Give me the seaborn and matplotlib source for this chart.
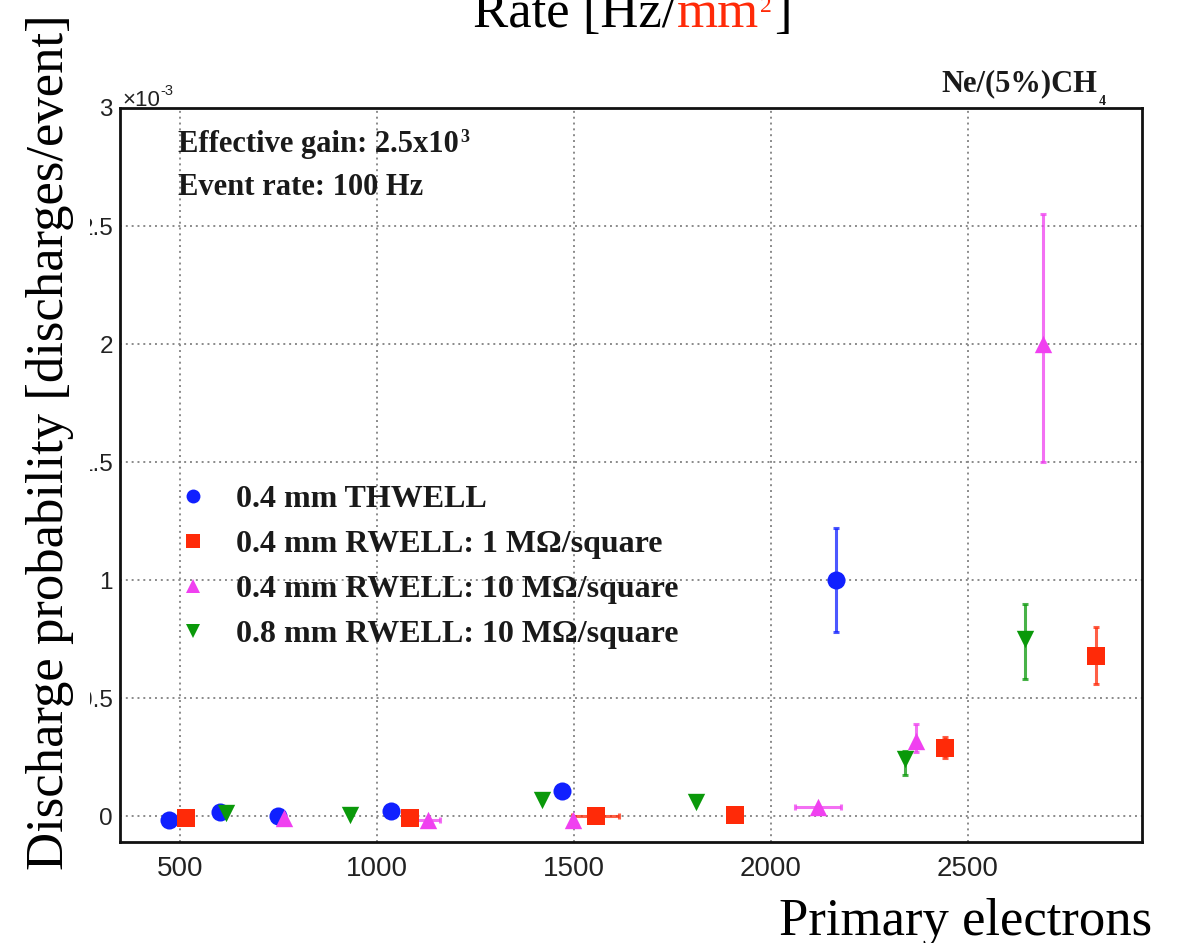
import numpy as np
import pandas as pd
import matplotlib
matplotlib.use("Agg")
import matplotlib.pyplot as plt
import seaborn as sns
from matplotlib.lines import Line2D
from matplotlib.patches import Rectangle

# ---------------- data (probability in units of 1e-3) ----------------
series_labels = ["0.4 mm THWELL",
                 "0.4 mm RWELL: 1 MΩ/square",
                 "0.4 mm RWELL: 10 MΩ/square",
                 "0.8 mm RWELL: 10 MΩ/square"]

thwell_x = [472, 601, 750, 1035, 1470, 2165]
thwell_y = [-0.017, 0.017, 0.0, 0.02, 0.105, 1.0]
thwell_ylo = [0, 0, 0, 0, 0, 0.22]
thwell_yhi = [0, 0, 0, 0, 0, 0.22]
thwell_xerr = [0, 0, 0, 0, 0, 0]

rw1_x = [515, 1085, 1555, 1910, 2442, 2825]
rw1_y = [-0.01, -0.008, 0.0, 0.004, 0.29, 0.68]
rw1_ylo = [0, 0, 0, 0, 0.045, 0.12]
rw1_yhi = [0, 0, 0, 0, 0.045, 0.12]
rw1_xerr = [0, 0, 60, 0, 0, 0]

rw10_x = [764, 1130, 1497, 2120, 2368, 2690]
rw10_y = [-0.01, -0.015, -0.015, 0.04, 0.32, 2.0]
rw10_ylo = [0, 0, 0, 0, 0.05, 0.5]
rw10_yhi = [0, 0, 0, 0, 0.07, 0.55]
rw10_xerr = [0, 30, 0, 58, 0, 0]

rw08_x = [617, 931, 1420, 1810, 2340, 2645]
rw08_y = [0.012, 0.004, 0.07, 0.06, 0.24, 0.75]
rw08_ylo = [0, 0, 0, 0, 0.065, 0.17]
rw08_yhi = [0, 0, 0, 0, 0.035, 0.15]
rw08_xerr = [0, 0, 0, 0, 0, 0]

x_ticks = [500, 1000, 1500, 2000, 2500]
y_ticks = [0, 0.5, 1, 1.5, 2, 2.5, 3]

# ---------------- styles ----------------
colors = {series_labels[0]: "#1020ff", series_labels[1]: "#ff2a08",
          series_labels[2]: "#f040f0", series_labels[3]: "#0a990a"}
markers = {series_labels[0]: "o", series_labels[1]: "s",
           series_labels[2]: "^", series_labels[3]: "v"}
sizes_ms = {series_labels[0]: 13, series_labels[1]: 13.5,
            series_labels[2]: 12.5, series_labels[3]: 12.5}

frames = []
for lab, xs, ys, lo, hi, xe in [
        (series_labels[0], thwell_x, thwell_y, thwell_ylo, thwell_yhi, thwell_xerr),
        (series_labels[1], rw1_x, rw1_y, rw1_ylo, rw1_yhi, rw1_xerr),
        (series_labels[2], rw10_x, rw10_y, rw10_ylo, rw10_yhi, rw10_xerr),
        (series_labels[3], rw08_x, rw08_y, rw08_ylo, rw08_yhi, rw08_xerr)]:
    frames.append(pd.DataFrame({"detector": lab, "electrons": xs, "prob": ys,
                                "ylo": lo, "yhi": hi, "xerr": xe}))
df = pd.concat(frames, ignore_index=True)

sns.set_theme(style="white")
plt.rcParams["font.family"] = ["Liberation Sans", "DejaVu Sans"]

W, H = 1184, 943
fig = plt.figure(figsize=(W / 100, H / 100), dpi=100)
ax = fig.add_axes([120 / W, 1 - 842 / H, 1022 / W, 734 / H])

# error bars
for lab in series_labels:
    d = df[df.detector == lab]
    m = (d.ylo > 0) | (d.yhi > 0) | (d.xerr > 0)
    d = d[m]
    if len(d):
        ax.errorbar(d.electrons, d.prob, yerr=[d.ylo, d.yhi],
                    xerr=d.xerr.where(d.xerr > 0, np.nan),
                    fmt="none", ecolor=colors[lab], elinewidth=2.2,
                    capsize=2.2, capthick=2.2, alpha=0.75, zorder=3)

for lab in series_labels:
    d = df[df.detector == lab]
    sns.scatterplot(data=d, x="electrons", y="prob", ax=ax, color=colors[lab],
                    marker=markers[lab], s=sizes_ms[lab] ** 2, linewidth=0,
                    legend=False, zorder=4)

ax.set_xlim(348, 2942)
ax.set_ylim(-0.11, 3.0)
ax.set_xlabel("")
ax.set_ylabel("")
ax.set_xticks(x_ticks)
ax.set_xticks(np.arange(400, 2950, 100), minor=True)
ax.set_yticks(y_ticks)
ax.set_yticks(np.arange(-0.1, 3.0, 0.1), minor=True)
ax.set_xticklabels([str(v) for v in x_ticks], fontsize=20, color="#222222")
ax.set_yticklabels(["%g" % v for v in y_ticks], fontsize=17.5, color="#222222")
ax.tick_params(axis="x", which="major", direction="in", length=14, width=2, pad=10)
ax.tick_params(axis="x", which="minor", direction="in", length=10, width=1.6)
ax.tick_params(axis="y", which="major", direction="in", length=20, width=2, pad=5)
ax.tick_params(axis="y", which="minor", direction="in", length=10, width=1.6)
ax.grid(True, which="major", linestyle=(0, (1, 2)), color="#8a8a8a", linewidth=1.4)
for s in ax.spines.values():
    s.set_color("#111111")
    s.set_linewidth(2)

# legend
handles = [Line2D([], [], linestyle="none", marker=markers[l], color=colors[l],
                  markersize=10, markeredgewidth=0) for l in series_labels]
leg = ax.legend(handles, series_labels, loc="upper left",
                bbox_to_anchor=((177 - 120) / 1022, (842 - 485) / 734),
                frameon=False, borderaxespad=0, borderpad=0, handlelength=1.0,
                handletextpad=0.84, labelspacing=0.49,
                prop={"family": "Liberation Serif", "weight": "bold", "size": 23})
for t in leg.get_texts():
    t.set_color("#1a1a1a")

serif_b = {"family": "Liberation Serif", "weight": "bold"}
t_eg = ax.text((178 - 120) / 1022, (842 - 152) / 734, "Effective gain: 2.5x10",
               transform=ax.transAxes, fontsize=22, va="baseline",
               color="#1a1a1a", **serif_b)
ax.annotate("3", xy=(1, 1), xycoords=t_eg, xytext=(1, 1), textcoords="offset points",
            va="top", ha="left", fontsize=13, color="#1a1a1a", **serif_b)
ax.text((178 - 120) / 1022, (842 - 195) / 734, "Event rate: 100 Hz",
        transform=ax.transAxes, fontsize=22, va="baseline", color="#1a1a1a", **serif_b)

# x10^-3
t_x10 = fig.text(122 / W, 1 - 106 / H, "×10", fontsize=16, va="baseline",
                 color="#222222")
ax.annotate("-3", xy=(1, 1), xycoords=t_x10, xytext=(0.5, 4), textcoords="offset points",
            va="top", ha="left", fontsize=10.5, color="#222222", annotation_clip=False)

# gas label
t_ne = fig.text(941 / W, 1 - 91 / H, "Ne/(5%)CH", fontsize=22, va="baseline",
                color="#1a1a1a", **serif_b)
ax.annotate("4", xy=(1, 0), xycoords=t_ne, xytext=(1, 2), textcoords="offset points",
            va="top", ha="left", fontsize=10, color="#1a1a1a", annotation_clip=False,
            **serif_b)

# white strip hiding leading digits (as in reference)
fig.patches.append(Rectangle((0, 0), 90 / W, 1, transform=fig.transFigure,
                             facecolor="white", edgecolor="none", zorder=2))

serif = {"family": "Liberation Serif"}
fig.text(50 / W, 1 - 442 / H, "Discharge probability [discharges/event]",
         rotation=90, ha="center", va="center", fontsize=38, color="black",
         zorder=3, **serif)
fig.text(1152 / W, 1 - 935 / H, "Primary electrons", ha="right", va="baseline",
         fontsize=38, color="black", **serif)

# top (clipped) title: Rate [Hz/mm^2]
t1 = fig.text(473 / W, 1 - 27 / H, "Rate [Hz/", fontsize=38, va="baseline",
              color="black", **serif)
t2 = ax.annotate("mm", xy=(1, 0), xycoords=t1, va="bottom", ha="left",
                 fontsize=38, color="#ff2a08", annotation_clip=False, **serif)
t3 = ax.annotate("2", xy=(1, 0), xycoords=t2, xytext=(1, 18.5), textcoords="offset points",
                 va="baseline", ha="left", fontsize=17, color="#ff2a08",
                 annotation_clip=False, **serif)
ax.annotate("]", xy=(1, 0), xycoords=(t3, t2), xytext=(2, 0), textcoords="offset points",
            va="bottom", ha="left", fontsize=38, color="black",
            annotation_clip=False, **serif)

fig.savefig("out.png", dpi=100)
